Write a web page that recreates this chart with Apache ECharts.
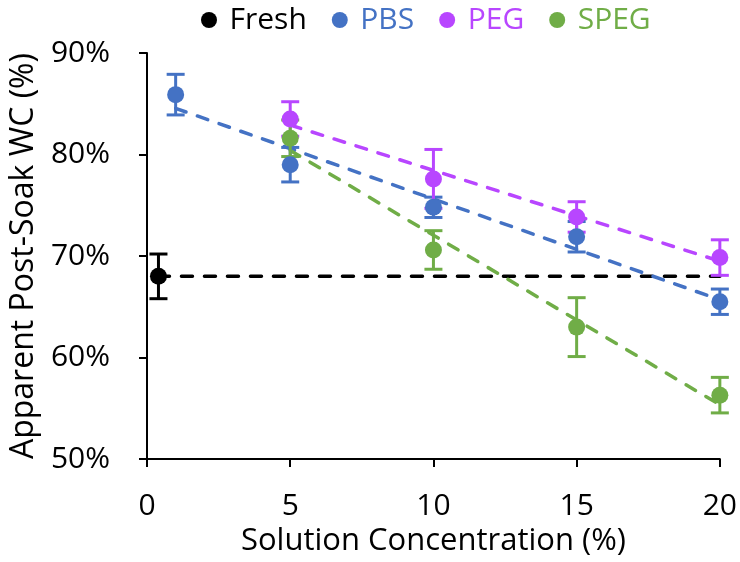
<!DOCTYPE html>
<html>
<head>
<meta charset="utf-8">
<script src="https://cdn.jsdelivr.net/npm/echarts@6/dist/echarts.min.js"></script>
<style>html,body{margin:0;background:#fff}#chart{width:740px;height:562px}</style>
</head>
<body>
<div id="chart"></div>
<script>
var seriesNames = ['Fresh', 'PBS', 'PEG', 'SPEG'];
var colors = ['#000000', '#4472C4', '#B846FF', '#70AD47'];

var freshX = [0.4];
var freshY = [68.0];
var freshErr = [2.2];

var pbsX = [1, 5, 10, 15, 20];
var pbsY = [85.9, 79.0, 74.8, 71.9, 65.5];
var pbsErr = [2.0, 1.7, 1.0, 1.5, 1.25];

var pegX = [5, 10, 15, 20];
var pegY = [83.5, 77.6, 73.85, 69.85];
var pegErr = [1.7, 2.9, 1.5, 1.75];

var spegX = [5, 10, 15, 20];
var spegY = [81.6, 70.6, 63.0, 56.3];
var spegErr = [1.8, 1.9, 2.9, 1.75];

var xTicks = [0, 5, 10, 15, 20];
var yTicks = [50, 60, 70, 80, 90];

var groups = [
  [freshX, freshY, freshErr],
  [pbsX, pbsY, pbsErr],
  [pegX, pegY, pegErr],
  [spegX, spegY, spegErr]
];

// least squares fit, returns two end points
function trend(xs, ys) {
  var n = xs.length, mx = 0, my = 0;
  for (var i = 0; i < n; i++) { mx += xs[i]; my += ys[i]; }
  mx /= n; my /= n;
  var sxy = 0, sxx = 0;
  for (var j = 0; j < n; j++) {
    sxy += (xs[j] - mx) * (ys[j] - my);
    sxx += (xs[j] - mx) * (xs[j] - mx);
  }
  var b = sxx ? sxy / sxx : 0;
  var x0 = xs[0], x1 = xs[n - 1];
  if (n === 1) x1 = xTicks[xTicks.length - 1];
  return [[x0, my + b * (x0 - mx)], [x1, my + b * (x1 - mx)]];
}

var series = [];
groups.forEach(function (g, k) {
  var pts = g[0].map(function (x, i) { return [x, g[1][i], g[2][i]]; });
  series.push({
    name: seriesNames[k] + ' trend',
    type: 'line',
    data: trend(g[0], g[1]),
    symbol: 'none',
    silent: true,
    z: 2,
    lineStyle: { color: colors[k], width: 3.5, type: [11, 12], cap: 'round' }
  });
  series.push({
    name: seriesNames[k] + ' err',
    type: 'custom',
    data: pts,
    z: 3,
    renderItem: function (params, api) {
      var x = api.value(0), y = api.value(1), e = api.value(2);
      var top = api.coord([x, y + e]);
      var bot = api.coord([x, y - e]);
      var hw = 9;
      var st = { stroke: colors[k], lineWidth: 3 };
      return {
        type: 'group',
        children: [
          { type: 'line', shape: { x1: top[0], y1: top[1], x2: bot[0], y2: bot[1] }, style: st },
          { type: 'line', shape: { x1: top[0] - hw, y1: top[1], x2: top[0] + hw, y2: top[1] }, style: st },
          { type: 'line', shape: { x1: bot[0] - hw, y1: bot[1], x2: bot[0] + hw, y2: bot[1] }, style: st }
        ]
      };
    }
  });
  series.push({
    name: seriesNames[k],
    type: 'scatter',
    data: pts,
    symbol: 'circle',
    symbolSize: 17,
    z: 4,
    itemStyle: { color: colors[k], opacity: 1 }
  });
});

var font = 'Open Sans';
var chart = echarts.init(document.getElementById('chart'));
chart.setOption({
  animation: false,
  textStyle: { fontFamily: font },
  legend: {
    top: 0,
    left: 196,
    icon: 'circle',
    itemWidth: 31,
    itemHeight: 16,
    itemGap: 25,
    textStyle: { fontSize: 30, fontFamily: font },
    data: seriesNames.map(function (n, i) {
      return { name: n, textStyle: { color: colors[i] } };
    })
  },
  grid: { left: 147, right: 20, top: 53, bottom: 99 },
  xAxis: {
    type: 'value',
    min: 0, max: 20, interval: 5,
    name: 'Solution Concentration (%)',
    nameLocation: 'middle',
    nameGap: 62,
    nameTextStyle: { fontSize: 31, color: '#000', fontFamily: font },
    axisLine: { lineStyle: { color: '#000', width: 2 } },
    axisTick: { show: true, length: 8, lineStyle: { color: '#000', width: 2 } },
    axisLabel: { fontSize: 30, color: '#000', margin: 32 },
    splitLine: { show: false }
  },
  yAxis: {
    type: 'value',
    min: 50, max: 90, interval: 10,
    name: 'Apparent Post-Soak WC (%)',
    nameLocation: 'middle',
    nameGap: 105,
    nameTextStyle: { fontSize: 32, color: '#000', fontFamily: font },
    axisLine: { show: true, lineStyle: { color: '#000', width: 2 } },
    axisTick: { show: true, length: 8, lineStyle: { color: '#000', width: 2 } },
    axisLabel: { fontSize: 30, color: '#000', margin: 37, formatter: '{value}%' },
    splitLine: { show: false }
  },
  series: series
});
</script>
</body>
</html>
